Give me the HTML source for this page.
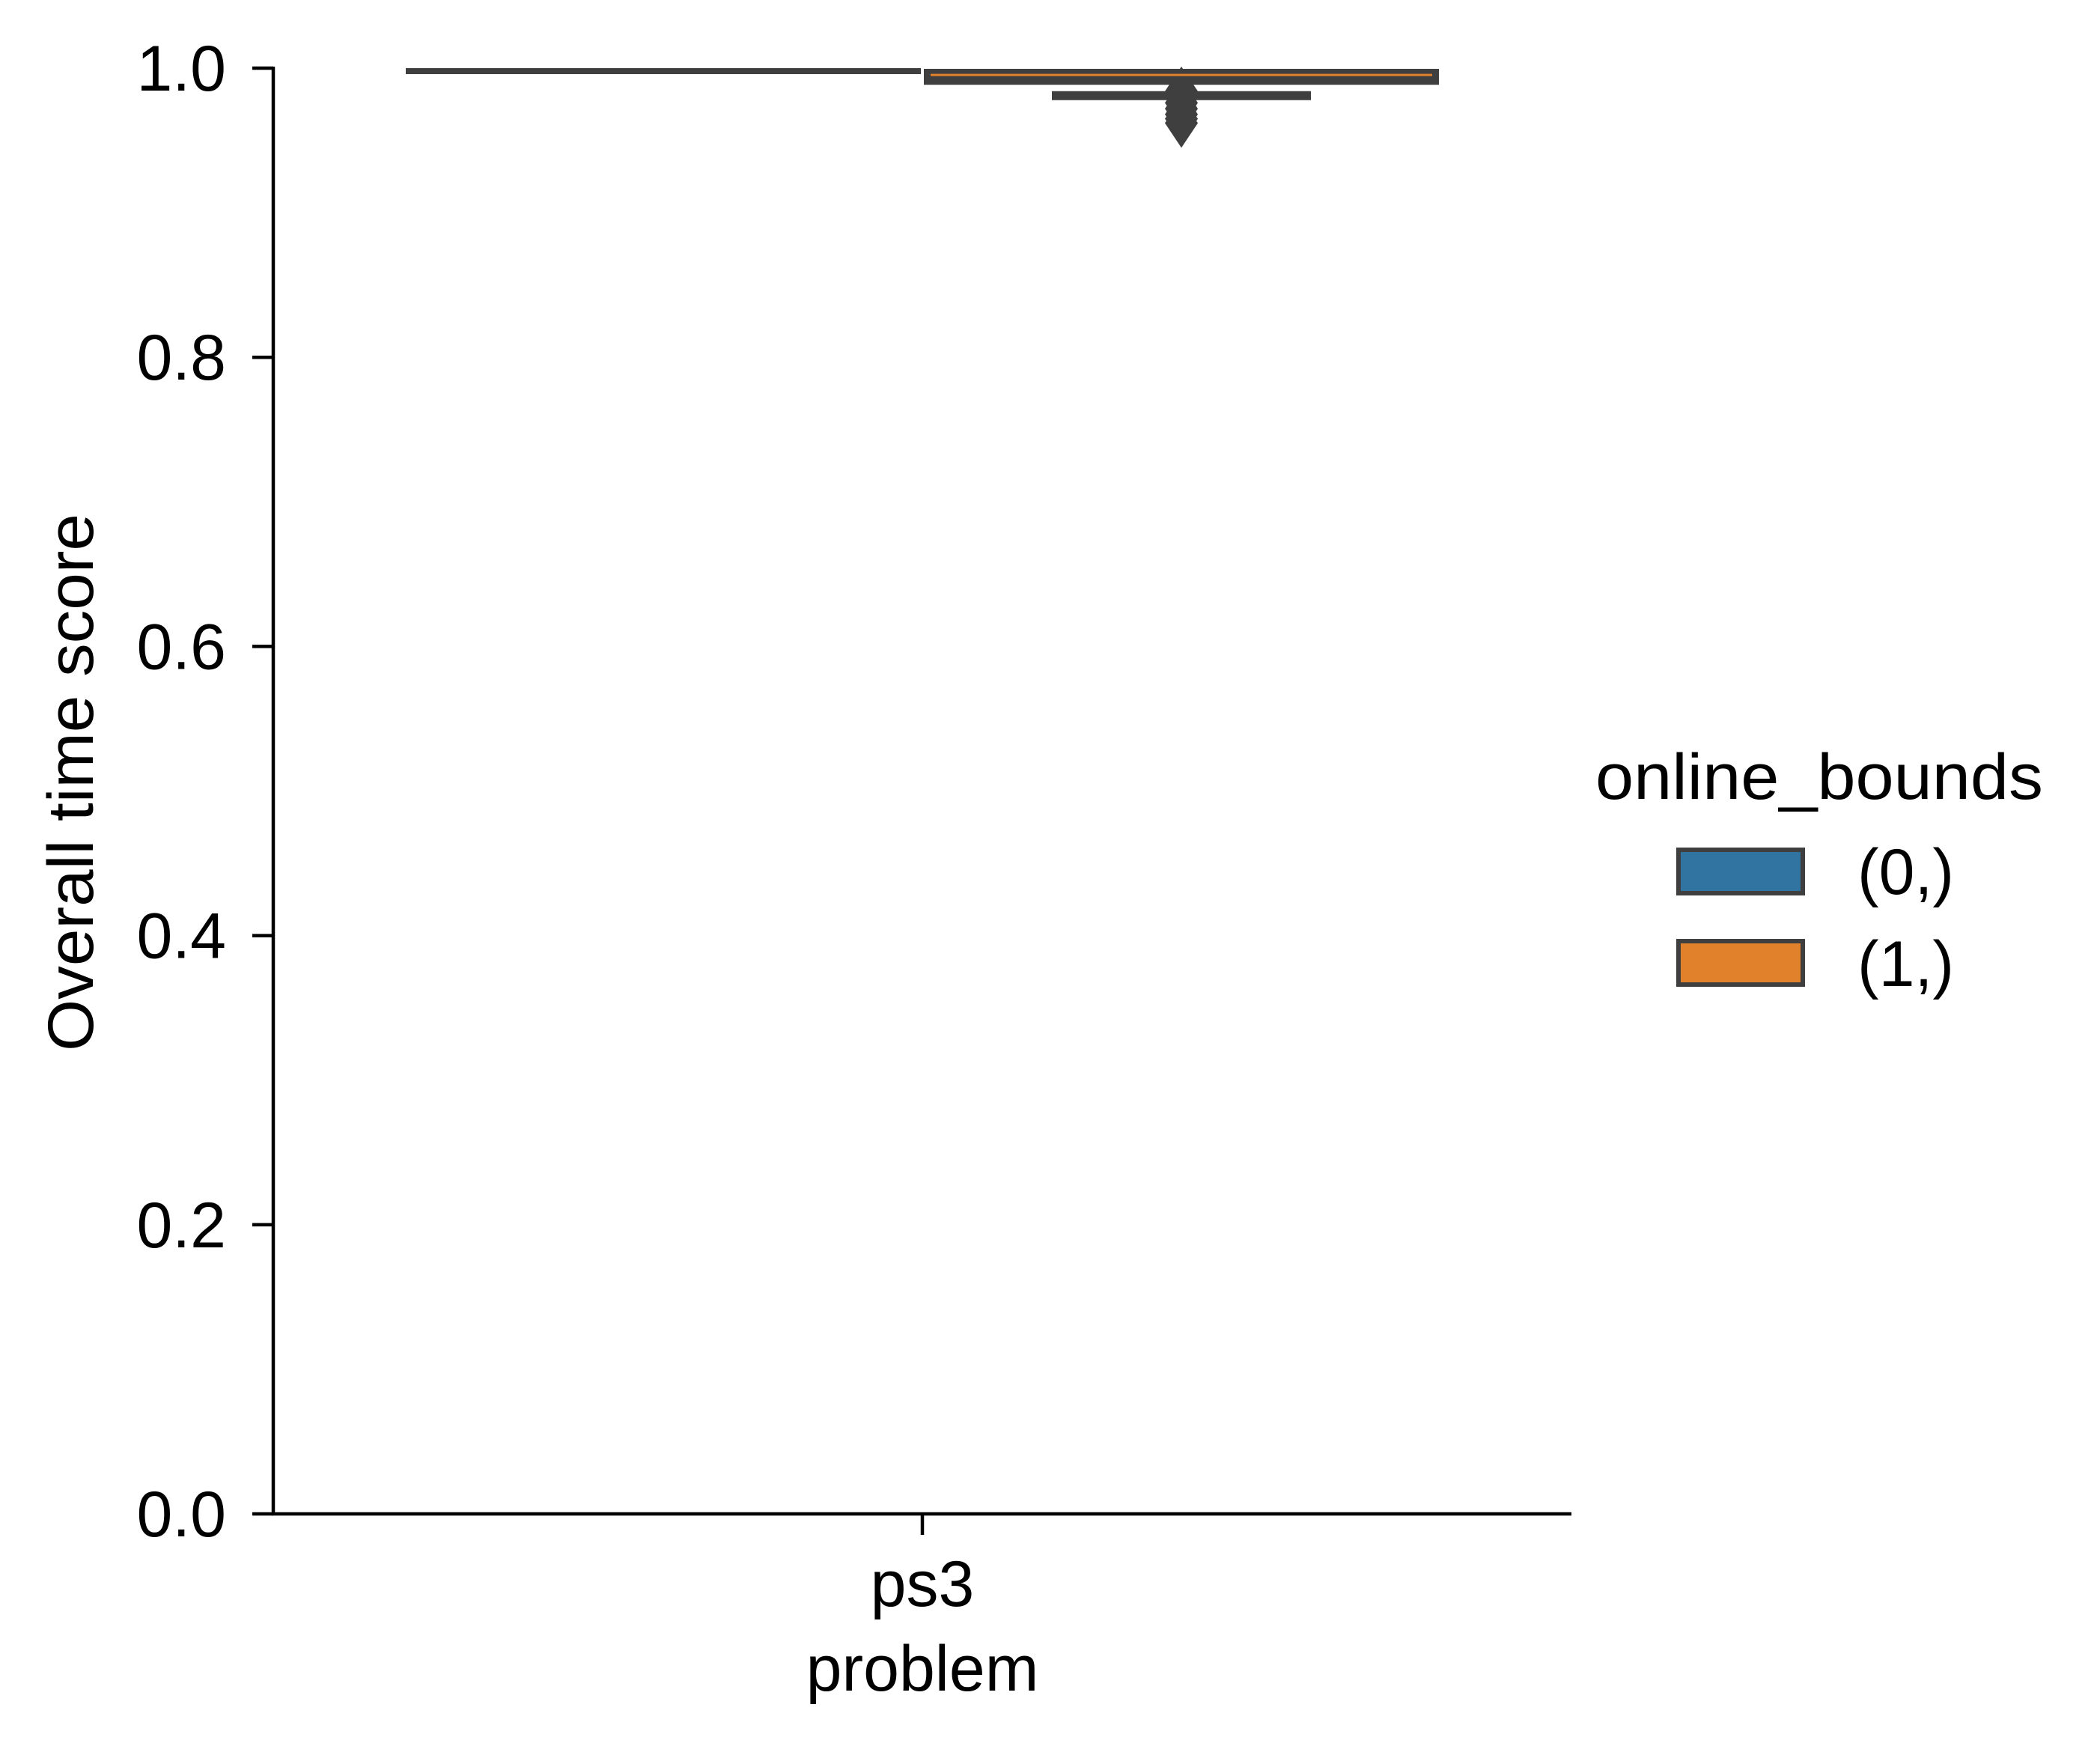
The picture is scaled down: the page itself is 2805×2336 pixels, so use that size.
<!DOCTYPE html>
<html><head><meta charset="utf-8"><style>
html,body{margin:0;padding:0;background:#fff;}
svg{display:block;font-family:"Liberation Sans","DejaVu Sans",sans-serif;}
</style></head><body>
<svg id="chart" width="2805" height="2336" viewBox="0 0 2805 2336" xmlns="http://www.w3.org/2000/svg">
<rect width="2805" height="2336" fill="#fff"/>
<g id="marks"></g>
<g id="axes"></g>
<g id="legend">
  <text x="2430" y="1067" font-size="86" text-anchor="middle" textLength="598" lengthAdjust="spacingAndGlyphs">online_bounds</text>
  <rect x="2242" y="1135" width="166" height="58" fill="#3274a1" stroke="#3f3f3f" stroke-width="6"/>
  <text x="2481" y="1194" font-size="86">(0,)</text>
  <rect x="2242" y="1257" width="166" height="58" fill="#e1812c" stroke="#3f3f3f" stroke-width="6"/>
  <text x="2481" y="1317" font-size="86">(1,)</text>
</g>
</svg>
<script>
const categories = ["ps3"];
const hues = ["(0,)", "(1,)"];
const q1 = [1.0, 0.989];
const median = [1.0, 0.9953];
const q3 = [1.0, 0.9995];
const whiskerLow = [1.0, 0.981];
const whiskerHigh = [1.0, 1.0];
const outliers = [[], [0.984, 0.980, 0.976, 0.972, 0.968, 0.965, 0.962]];
const yTicks = [0.0, 0.2, 0.4, 0.6, 0.8, 1.0];
const yTickLabels = ["0.0", "0.2", "0.4", "0.6", "0.8", "1.0"];
const colors = ["#3274a1", "#e1812c"];

const NS = "http://www.w3.org/2000/svg";
const X0 = 365, X1 = 2099, Y0 = 2022, Y1 = 91;
function y(v){ return Y0 - (Y0 - Y1) * v; }
const catW = (X1 - X0) / categories.length;
function xc(i){ return X0 + catW * (i + 0.5); }
function mk(tag, attrs, parent){ const e = document.createElementNS(NS, tag); for (const k in attrs) e.setAttribute(k, attrs[k]); parent.appendChild(e); return e; }

const marks = document.getElementById('marks');
const axes = document.getElementById('axes');
const boxW = 692;
categories.forEach((c, i) => {
  hues.forEach((h, j) => {
    const cx = xc(i) + (j - 0.5) * boxW;
    const left = cx - boxW / 2;
    const g = mk('g', {}, marks);
    
    
    const top = y(q3[j]), bot = y(q1[j]);
    if (whiskerLow[j] < q1[j]) {
      const w = mk('line', {x1: cx, x2: cx, y1: bot, y2: y(whiskerLow[j]), stroke: '#3f3f3f', 'stroke-width': 7}, g);
      
      
      const cap = mk('line', {x1: cx - boxW / 4, x2: cx + boxW / 4, y1: y(whiskerLow[j]), y2: y(whiskerLow[j]), stroke: '#3f3f3f', 'stroke-width': 12}, g);
      
      
    }
    outliers[j].forEach(v => {
      const py = y(v);
      const d = mk('path', {d: `M${cx} ${py-33} L${cx+22} ${py} L${cx} ${py+33} L${cx-22} ${py} Z`, fill: '#3f3f3f'}, g);
      
      
    });
    const r = mk('rect', {x: left + 3, y: top + 1, width: boxW - 6, height: Math.max(bot - top - 1, 6), fill: '#3f3f3f', stroke: '#3f3f3f', 'stroke-width': 2}, g);
    
    
    if (bot - top > 8) {
      const m = mk('line', {x1: left + 11, x2: left + boxW - 11, y1: y(median[j]), y2: y(median[j]), stroke: colors[j], 'stroke-width': 3}, g);
      
      
    }
  });
});

const ya = mk('line', {x1: X0, x2: X0, y1: Y1 - 2, y2: Y0 + 2, stroke: '#000', 'stroke-width': 4.5}, axes);


const xa = mk('line', {x1: X0 - 2, x2: X1, y1: Y0, y2: Y0, stroke: '#000', 'stroke-width': 4.5}, axes);


yTicks.forEach((v, k) => {
  const t = mk('line', {x1: X0 - 28, x2: X0, y1: y(v), y2: y(v), stroke: '#000', 'stroke-width': 4.5}, axes);
  
  
  const l = mk('text', {x: 302, y: y(v) + 30, 'font-size': 86, 'text-anchor': 'end'}, axes);
  l.textContent = yTickLabels[k];
  
  
});
categories.forEach((c, i) => {
  const t = mk('line', {x1: xc(i), x2: xc(i), y1: Y0, y2: Y0 + 28, stroke: '#000', 'stroke-width': 4.5}, axes);
  
  
  const l = mk('text', {x: xc(i), y: 2145, 'font-size': 86, 'text-anchor': 'middle'}, axes);
  l.textContent = c;
  
  
});
const xt = mk('text', {x: 1232, y: 2258, 'font-size': 86, 'text-anchor': 'middle'}, axes);
xt.textContent = 'problem';


const yt = mk('text', {x: 0, y: 0, 'font-size': 86, 'text-anchor': 'middle', textLength: 718, lengthAdjust: 'spacingAndGlyphs', transform: 'translate(124,1045) rotate(-90)'}, axes);
yt.textContent = 'Overall time score';


</script>
</body></html>
